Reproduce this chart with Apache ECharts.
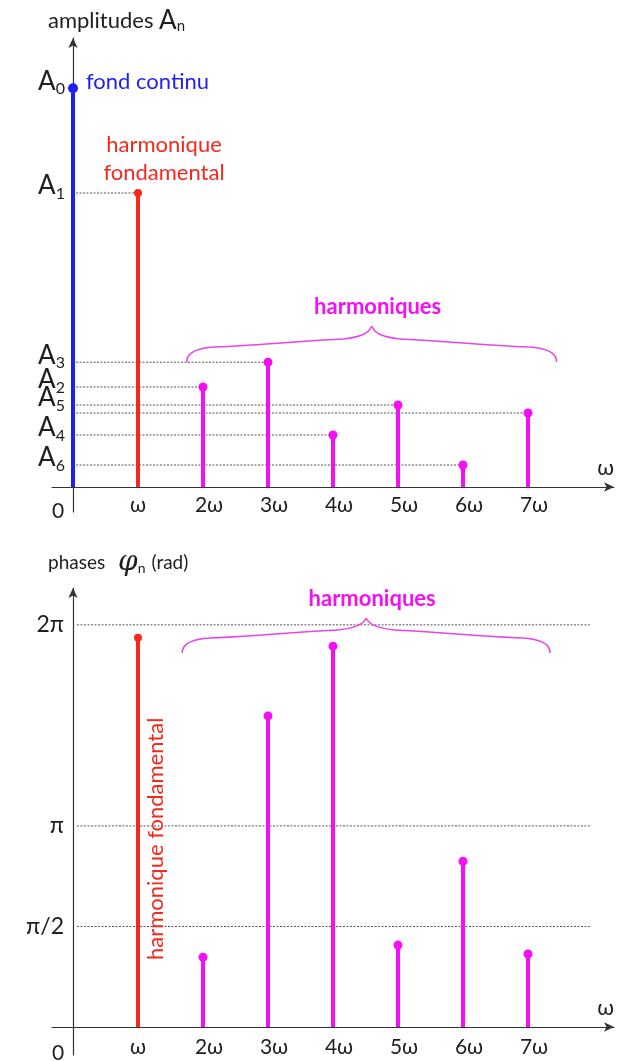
<!DOCTYPE html>
<html><head><meta charset="utf-8">
<script src="https://cdn.jsdelivr.net/npm/echarts@6/dist/echarts.min.js"></script>
<style>html,body{margin:0;padding:0;background:#fff}#c{width:620px;height:1061px}</style>
</head><body><div id="c"></div>
<script>
// ---- data ----
const harmonics = [0, 1, 2, 3, 4, 5, 6, 7];
const amplitudes = [9.97, 7.35, 2.5, 3.12, 1.3, 2.05, 0.55, 1.85];
const labelledAmplitudes = [0, 1, 2, 3, 4, 5, 6];   // A7 has no label
const phaseHarmonics = [1, 2, 3, 4, 5, 6, 7];
const phases = [6.08, 1.09, 4.86, 5.95, 1.28, 2.59, 1.14];
const freqLabels = ['0', 'ω', '2ω', '3ω', '4ω', '5ω', '6ω', '7ω'];
const phaseTicks = [Math.PI / 2, Math.PI, 2 * Math.PI];
const phaseTickLabels = ['π/2', 'π', '2π'];

const FF = 'Lato, "Open Sans", sans-serif';
const BLUE = '#1f1ff2', RED = '#f5281c', MAG = '#f50ff5', BRACE = '#e845e8', AX = '#333', TXT = '#1e1e1e';
const colorOf = n => n === 0 ? BLUE : (n === 1 ? RED : MAG);
const radiusOf = n => n === 0 ? 5 : (n === 1 ? 4 : 4.5);

function stem(api, n, v) {
  const base = api.coord([n, 0]), top = api.coord([n, v]);
  const c = colorOf(n);
  return { base, top, els: [
    { type: 'line', shape: { x1: base[0], y1: base[1], x2: top[0], y2: top[1] }, style: { stroke: c, lineWidth: 4 } },
    { type: 'circle', shape: { cx: top[0], cy: top[1], r: radiusOf(n) }, style: { fill: c } }
  ]};
}
function ampStem(params, api) {
  const n = api.value(0), v = api.value(1);
  const s = stem(api, n, v);
  if (n === 0) s.els.push({ type: 'text', x: s.top[0] + 13, y: s.top[1] - 6,
    style: { text: 'fond continu', fill: BLUE, fontSize: 22, fontFamily: FF, align: 'left', verticalAlign: 'middle' } });
  if (n === 1) s.els.push({ type: 'text', x: s.top[0] + 26, y: s.top[1] - 34,
    style: { text: 'harmonique\nfondamental', fill: RED, fontSize: 22, lineHeight: 28, fontFamily: FF, align: 'center', verticalAlign: 'middle' } });
  return { type: 'group', children: s.els };
}
function phaseStem(params, api) {
  const n = api.value(0), v = api.value(1);
  const s = stem(api, n, v);
  if (n === 1) s.els.push({ type: 'text', x: s.base[0] + 18, y: s.base[1] - 67, rotation: Math.PI / 2,
    style: { text: 'harmonique fondamental', fill: RED, fontSize: 22, fontFamily: FF, align: 'left', verticalAlign: 'middle' } });
  return { type: 'group', children: s.els };
}
const dotted = { stroke: '#555', lineWidth: 1, lineDash: [2, 1.5] };
function guide(params, api) {
  const n = api.value(0), v = api.value(1);
  const p0 = api.coord([0, v]), p1 = api.coord([n, v]);
  return { type: 'line', shape: { x1: p0[0] + 3, y1: p0[1], x2: p1[0], y2: p1[1] }, style: dotted };
}
function gridLine(params, api) {
  const x1 = api.value(0), v = api.value(1);
  const p0 = api.coord([0, v]), p1 = api.coord([x1, v]);
  return { type: 'line', shape: { x1: p0[0] + 4, y1: p0[1], x2: p1[0], y2: p1[1] }, style: dotted };
}
function brace(params, api) {
  const l = api.coord([api.value(0), api.value(2)]);
  const r = api.coord([api.value(1), api.value(2)]);
  const xl = l[0], xr = r[0], yb = l[1], xc = (xl + xr) / 2, h = api.value(3);
  const st = { stroke: BRACE, lineWidth: 1.5, fill: null };
  const half = s => [
    { type: 'bezierCurve', shape: { x1: s.x(0), y1: yb, cpx1: s.x(0), cpy1: yb - 9, cpx2: s.x(8), cpy2: yb - 14, x2: s.x(28), y2: yb - 15 }, style: st },
    { type: 'bezierCurve', shape: { x1: s.x(28), y1: yb - 15, cpx1: s.x(80), cpy1: yb - 17, cpx2: xc - s.d * 90, cpy2: yb - 20, x2: xc - s.d * 28, y2: yb - 23 }, style: st },
    { type: 'bezierCurve', shape: { x1: xc - s.d * 28, y1: yb - 23, cpx1: xc - s.d * 12, cpy1: yb - 25, cpx2: xc - s.d * 3, cpy2: yb - 28, x2: xc, y2: yb - h }, style: st }
  ];
  return { type: 'group', children: [
    ...half({ x: k => xl + k, d: 1 }),
    ...half({ x: k => xr - k, d: -1 }),
    { type: 'text', x: xc + 6, y: yb - h - 19,
      style: { text: 'harmoniques', fill: MAG, fontSize: 22, fontWeight: 'bold', fontFamily: FF, align: 'center', verticalAlign: 'middle' } }
  ]};
}

function xAxisCfg(gi, min, max, margin) {
  return {
    gridIndex: gi, type: 'value', min, max,
    axisLine: { onZero: true, symbol: ['none', 'arrow'], symbolSize: [7, 10], lineStyle: { color: AX, width: 1.2 } },
    axisTick: { show: false }, splitLine: { show: false },
    axisLabel: {
      customValues: harmonics, margin,
      formatter: v => { const i = Math.round(v); return (i === 0 ? '{z|' : i === 1 ? '{o|' : '{m|') + freqLabels[i] + '}'; },
      rich: {
        z: { fontSize: 21, fontFamily: FF, color: TXT, padding: [6, 30, 0, 0] },
        o: { fontSize: 21, fontFamily: FF, color: TXT },
        m: { fontSize: 21, fontFamily: FF, color: TXT, padding: [0, 0, 0, 12] }
      }
    },
    name: 'ω', nameLocation: 'end', nameGap: 0,
    nameTextStyle: { fontSize: 22, fontFamily: FF, color: TXT, align: 'right', verticalAlign: 'bottom', padding: [0, 0, 8, 0] }
  };
}
const yLine = { onZero: true, symbol: ['none', 'arrow'], symbolSize: [7, 10], lineStyle: { color: AX, width: 1.2 } };
const nw = { fontWeight: 'normal', fontFamily: FF, color: TXT };

const option = {
  animation: false,
  backgroundColor: '#fff',
  title: [
    { left: 48, top: 7, padding: 0, text: '{t|amplitudes }{a|A}{s|n}',
      textStyle: { fontWeight: 'normal', rich: {
        t: { ...nw, fontSize: 22 },
        a: { ...nw, fontSize: 26 },
        s: { ...nw, fontSize: 15, padding: [12, 0, 0, 0] } } } },
    { left: 48, top: 549, padding: 0, text: '{t|phases }{p|φ}{s|n}{r|(rad)}',
      textStyle: { fontWeight: 'normal', rich: {
        t: { ...nw, fontSize: 19 },
        p: { ...nw, fontSize: 28, fontFamily: 'DejaVu Serif, serif', fontStyle: 'italic', padding: [0, 0, 0, 8] },
        s: { ...nw, fontSize: 14, padding: [10, 0, 0, 0] },
        r: { ...nw, fontSize: 19, padding: [0, 0, 0, 6] } } } }
  ],
  grid: [
    { left: 52, right: 6, top: 38, bottom: 549, outerBoundsMode: 'none' },
    { left: 52, right: 6, top: 588, bottom: 6, outerBoundsMode: 'none' }
  ],
  xAxis: [ xAxisCfg(0, -0.323, 8.323, -17), xAxisCfg(1, -0.323, 8.323, -18) ],
  yAxis: [
    { gridIndex: 0, type: 'value', min: -0.625, max: 11.225, axisLine: yLine, axisTick: { show: false }, splitLine: { show: false },
      axisLabel: {
        customValues: labelledAmplitudes.map(i => amplitudes[i]), margin: -13, padding: [0, 0, 14, 0],
        formatter: v => '{a|A}{s|' + amplitudes.findIndex(a => Math.abs(a - v) < 1e-9) + '}',
        rich: {
          a: { ...nw, fontSize: 26 },
          s: { ...nw, fontSize: 16, padding: [16, 0, 0, 0] } } } },
    { gridIndex: 1, type: 'value', min: -0.4375, max: 6.859, axisLine: yLine, axisTick: { show: false }, splitLine: { show: false },
      axisLabel: {
        customValues: phaseTicks, margin: -12, fontSize: 23, fontFamily: FF, color: TXT,
        formatter: v => phaseTickLabels[phaseTicks.findIndex(t => Math.abs(t - v) < 1e-9)] } }
  ],
  series: [
    { type: 'custom', xAxisIndex: 0, yAxisIndex: 0, silent: true, z: 1, renderItem: guide,
      data: harmonics.slice(1).map(n => [n, amplitudes[n]]) },
    { type: 'custom', xAxisIndex: 0, yAxisIndex: 0, silent: true, z: 3, renderItem: ampStem,
      data: harmonics.map(n => [n, amplitudes[n]]) },
    { type: 'custom', xAxisIndex: 0, yAxisIndex: 0, silent: true, z: 2, renderItem: brace,
      data: [[1.75, 7.44, 3.125, 36]] },
    { type: 'custom', xAxisIndex: 1, yAxisIndex: 1, silent: true, z: 1, renderItem: gridLine,
      data: phaseTicks.map(v => [7.95, v]) },
    { type: 'custom', xAxisIndex: 1, yAxisIndex: 1, silent: true, z: 3, renderItem: phaseStem,
      data: phaseHarmonics.map((n, i) => [n, phases[i]]) },
    { type: 'custom', xAxisIndex: 1, yAxisIndex: 1, silent: true, z: 2, renderItem: brace,
      data: [[1.68, 7.34, 5.844, 35]] }
  ]
};
const chart = echarts.init(document.getElementById('c'), null, { renderer: 'canvas' });
chart.setOption(option);
</script></body></html>
